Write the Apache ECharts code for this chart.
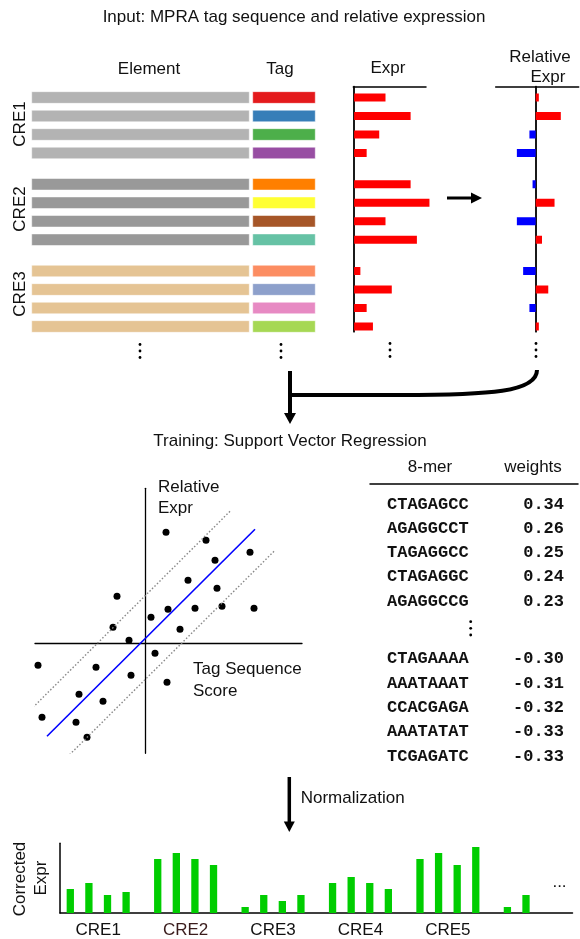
<!DOCTYPE html>
<html><head><meta charset="utf-8">
<script src="https://cdn.jsdelivr.net/npm/echarts@6/dist/echarts.min.js"></script>
<style>html,body{margin:0;padding:0;background:#fff}#c{width:580px;height:939px}</style>
</head><body><div id="c"></div>
<script>
// ---------------- data ----------------
const creNames = ['CRE1', 'CRE2', 'CRE3'];
const elementColors = ['#b3b3b3', '#999999', '#e5c494'];
const tagColors = ['#e41a1c', '#377eb8', '#4daf4a', '#984ea3', '#ff7f00', '#ffff33', '#a65628', '#66c2a5', '#fc8d62', '#8da0cb', '#e78ac3', '#a6d854'];
const exprValues = [5, 9, 4, 2, 9, 12, 5, 10, 1, 6, 2, 3];
const relExprValues = [0.5, 4, -1, -3, -0.5, 3, -3, 1, -2, 2, -1, 0.5];

const svrPoints = [[21, 111], [61, 103], [105, 91], [70, 83], [43, 63], [72, 55], [-28, 47], [23, 34], [50, 35], [77, 37], [109, 35], [6, 26], [-32, 16], [35, 14], [-16, 3], [10, -10], [-107, -22], [-49, -24], [-14, -32], [22, -39], [-66, -51], [-42, -58], [-103, -74], [-69, -79], [-58, -94]];
const svrLine = [[-98, -93], [110, 114]];
const marginUpper = [[-122, -74], [85, 132]];
const marginLower = [[-78, -114], [130, 93]];

const topKmers = ['CTAGAGCC', 'AGAGGCCT', 'TAGAGGCC', 'CTAGAGGC', 'AGAGGCCG'];
const topWeights = [0.34, 0.26, 0.25, 0.24, 0.23];
const bottomKmers = ['CTAGAAAA', 'AAATAAAT', 'CCACGAGA', 'AAATATAT', 'TCGAGATC'];
const bottomWeights = [-0.30, -0.31, -0.32, -0.33, -0.33];

const correctedGroups = ['CRE1', 'CRE2', 'CRE3', 'CRE4', 'CRE5', 'CRE6'];
const correctedValues = [[4, 5, 3, 3.5], [9, 10, 9, 8], [1, 3, 2, 3], [5, 6, 5, 4], [9, 10, 8, 11], [1, 3]];

// ---------------- layout helpers ----------------
const SANS = '"Liberation Sans", Arial, Helvetica, sans-serif';
const MONO = '"Liberation Mono", "Courier New", monospace';
const TOP_GROUP_STEP = 4.69;
const rowPos = k => Math.floor(k / 4) * TOP_GROUP_STEP + (k % 4);
const TABLE_GAP = 6.37;
const BOTTOM_GROUP_STEP = 4.7;

const topY = { top: 86.77, height: 244.9 };
const topYAxis = (gi, extra) => Object.assign({
  gridIndex: gi, type: 'value', min: -0.58, max: 12.66, inverse: true,
  axisLine: { show: false }, axisTick: { show: false }, axisLabel: { show: false }, splitLine: { show: false }
}, extra || {});
const hiddenX = (gi, min, max, extra) => Object.assign({
  gridIndex: gi, type: 'value', min, max,
  axisLine: { show: false }, axisTick: { show: false }, axisLabel: { show: false }, splitLine: { show: false }
}, extra || {});
const blackLine = w => ({ color: '#000', width: w });

function txt(x, y, text, o) {
  o = o || {};
  const align = o.align || 'center';
  return {
    type: 'text', x, y, rotation: o.rotation || 0, silent: true,
    style: {
      text, font: o.font || ('17px ' + SANS), fill: o.color || '#111',
      align, textAlign: align, verticalAlign: 'middle', textVerticalAlign: 'middle'
    }
  };
}
function dots(x, ys) {
  return ys.map(y => ({ type: 'circle', shape: { cx: x, cy: y, r: 1.4 }, style: { fill: '#000' }, silent: true }));
}

// ---------------- series data ----------------
const rowsIdx = exprValues.map((v, k) => k);
const tableRows = [];
topKmers.forEach((k, i) => tableRows.push({ kmer: k, w: topWeights[i], pos: i }));
bottomKmers.forEach((k, i) => tableRows.push({ kmer: k, w: bottomWeights[i], pos: TABLE_GAP + i }));
const correctedData = [];
correctedValues.forEach((vals, g) => vals.forEach((v, i) => correctedData.push([g * BOTTOM_GROUP_STEP + i, v])));
const labelCenters = correctedGroups.slice(0, 5).map((n, g) => g * BOTTOM_GROUP_STEP + 1.5);

const EXPR_SCALE = 6.28;

const option = {
  animation: false,
  grid: [
    Object.assign({ left: 31.7, width: 217.6 }, topY),
    Object.assign({ left: 252.7, width: 62.6 }, topY),
    Object.assign({ left: 353.3, width: 72.7 }, topY),
    Object.assign({ left: 495.7, width: 83 }, topY),
    { left: 35, top: 488.3, width: 267, height: 265 },
    { left: 370, top: 483.3, width: 208, height: 286.7 },
    { left: 60, top: 843.3, width: 512.5, height: 72 }
  ],
  xAxis: [
    hiddenX(0, 0, 1),
    hiddenX(1, 0, 1),
    hiddenX(2, 0, 72.7 / EXPR_SCALE, { position: 'top', axisLine: { show: true, onZero: false, lineStyle: blackLine(1.5) } }),
    hiddenX(3, -40 / EXPR_SCALE, 43 / EXPR_SCALE, { position: 'top', axisLine: { show: true, onZero: false, lineStyle: blackLine(1.5) } }),
    hiddenX(4, -110, 157, { axisLine: { show: true, onZero: true, lineStyle: blackLine(1.3) } }),
    hiddenX(5, 0, 208, { position: 'top', axisLine: { show: true, onZero: false, lineStyle: blackLine(1.5) } }),
    hiddenX(6, -0.554, 27.0, {
      axisLine: { show: true, onZero: false, lineStyle: blackLine(1.5) },
      axisLabel: {
        show: true, customValues: labelCenters, margin: 9, fontSize: 17, fontFamily: SANS,
        color: (v, i) => (i === 1 ? '#3a1c1c' : '#111'),
        formatter: v => correctedGroups[Math.round((v - 1.5) / BOTTOM_GROUP_STEP)]
      }
    })
  ],
  yAxis: [
    topYAxis(0),
    topYAxis(1),
    topYAxis(2, { axisLine: { show: true, onZero: false, lineStyle: blackLine(1.8) } }),
    topYAxis(3, { axisLine: { show: true, onZero: true, lineStyle: blackLine(1.8) } }),
    { gridIndex: 4, type: 'value', min: -110, max: 155, axisLine: { show: true, onZero: true, lineStyle: blackLine(1.3) }, axisTick: { show: false }, axisLabel: { show: false }, splitLine: { show: false } },
    { gridIndex: 5, type: 'value', min: -0.864, max: 10.934, inverse: true, show: false },
    { gridIndex: 6, type: 'value', min: 0, max: 72 / 6.2, axisLine: { show: true, onZero: false, lineStyle: blackLine(1.5) }, axisTick: { show: false }, axisLabel: { show: false }, splitLine: { show: false } }
  ],
  series: [
    { // element bars
      type: 'custom', xAxisIndex: 0, yAxisIndex: 0, silent: true,
      data: rowsIdx.map(k => [0, rowPos(k)]),
      renderItem: (p, api) => {
        const a = api.coord([0, api.value(1)]), b = api.coord([1, api.value(1)]);
        return { type: 'rect', shape: { x: a[0], y: a[1] - 5.85, width: b[0] - a[0], height: 11.7 },
          style: { fill: elementColors[Math.floor(p.dataIndex / 4)], stroke: 'rgba(255,255,255,0.55)', lineWidth: 1 } };
      }
    },
    { // tag bars
      type: 'custom', xAxisIndex: 1, yAxisIndex: 1, silent: true,
      data: rowsIdx.map(k => [0, rowPos(k)]),
      renderItem: (p, api) => {
        const a = api.coord([0, api.value(1)]), b = api.coord([1, api.value(1)]);
        return { type: 'rect', shape: { x: a[0], y: a[1] - 5.85, width: b[0] - a[0], height: 11.7 },
          style: { fill: tagColors[p.dataIndex], stroke: 'rgba(255,255,255,0.55)', lineWidth: 1 } };
      }
    },
    { // expression
      type: 'custom', xAxisIndex: 2, yAxisIndex: 2, silent: true,
      data: exprValues.map((v, k) => [v, rowPos(k)]),
      renderItem: (p, api) => {
        const a = api.coord([0, api.value(1)]), b = api.coord([api.value(0), api.value(1)]);
        return { type: 'rect', shape: { x: a[0] + 0.8, y: a[1] - 4, width: b[0] - a[0], height: 8 }, style: { fill: '#ff0000' } };
      }
    },
    { // relative expression
      type: 'custom', xAxisIndex: 3, yAxisIndex: 3, silent: true,
      data: relExprValues.map((v, k) => [v, rowPos(k)]),
      renderItem: (p, api) => {
        const v = api.value(0);
        const a = api.coord([0, api.value(1)]), b = api.coord([v, api.value(1)]);
        const x0 = Math.min(a[0], b[0]);
        return { type: 'rect', shape: { x: x0, y: a[1] - 4, width: Math.abs(b[0] - a[0]), height: 8 }, style: { fill: v >= 0 ? '#ff0000' : '#0000ff' } };
      }
    },
    { type: 'line', xAxisIndex: 4, yAxisIndex: 4, data: marginUpper, symbol: 'none', silent: true, lineStyle: { color: '#888', width: 1.4, type: [1.5, 2] } },
    { type: 'line', xAxisIndex: 4, yAxisIndex: 4, data: marginLower, symbol: 'none', silent: true, lineStyle: { color: '#888', width: 1.4, type: [1.5, 2] } },
    { type: 'line', xAxisIndex: 4, yAxisIndex: 4, data: svrLine, symbol: 'none', silent: true, lineStyle: { color: '#0000ff', width: 1.6 } },
    { type: 'scatter', xAxisIndex: 4, yAxisIndex: 4, data: svrPoints, symbolSize: 7, silent: true, itemStyle: { color: '#000', opacity: 1 } },
    { // table of k-mer weights
      type: 'custom', xAxisIndex: 5, yAxisIndex: 5, silent: true,
      data: tableRows.map(r => [0, r.pos]),
      renderItem: (p, api) => {
        const r = tableRows[p.dataIndex];
        const c = api.coord([0, api.value(1)]);
        const st = (text, align) => ({ text, font: 'bold 17px ' + MONO, fill: '#111', align, textAlign: align, verticalAlign: 'middle', textVerticalAlign: 'middle' });
        return { type: 'group', children: [
          { type: 'text', x: c[0] + 17, y: c[1], style: st(r.kmer, 'left') },
          { type: 'text', x: c[0] + 194, y: c[1], style: st(r.w.toFixed(2), 'right') }
        ] };
      }
    },
    { // corrected expression
      type: 'custom', xAxisIndex: 6, yAxisIndex: 6, silent: true,
      data: correctedData,
      renderItem: (p, api) => {
        const t = api.coord([api.value(0), api.value(1)]), b = api.coord([api.value(0), 0]);
        return { type: 'rect', shape: { x: t[0] - 3.65, y: t[1], width: 7.3, height: b[1] - t[1] }, style: { fill: '#00cd00' } };
      }
    }
  ],
  graphic: [].concat(
    [
      txt(294, 17, 'Input: MPRA tag sequence and relative expression'),
      txt(149, 69, 'Element'),
      txt(280, 69, 'Tag'),
      txt(388, 68, 'Expr'),
      txt(540, 57, 'Relative'),
      txt(548, 77, 'Expr'),
      txt(20, 124, creNames[0], { rotation: Math.PI / 2 }),
      txt(20, 209, creNames[1], { rotation: Math.PI / 2 }),
      txt(20, 294, creNames[2], { rotation: Math.PI / 2 }),
      txt(290, 441, 'Training: Support Vector Regression'),
      txt(158, 487, 'Relative', { align: 'left' }),
      txt(158, 508, 'Expr', { align: 'left' }),
      txt(193, 669, 'Tag Sequence', { align: 'left' }),
      txt(193, 691, 'Score', { align: 'left' }),
      txt(430, 467, '8-mer'),
      txt(533, 467, 'weights'),
      txt(300.7, 798, 'Normalization', { align: 'left' }),
      txt(20.4, 879, 'Corrected', { rotation: Math.PI / 2 }),
      txt(40.9, 878, 'Expr', { rotation: Math.PI / 2 }),
      txt(559.5, 882, '...'),
      // arrow expr -> relative
      { type: 'line', silent: true, shape: { x1: 447, y1: 198, x2: 473, y2: 198 }, style: { stroke: '#000', lineWidth: 3 } },
      { type: 'polygon', silent: true, shape: { points: [[482, 198], [471, 192.5], [471, 203.5]] }, style: { fill: '#000' } },
      // connector to training
      { type: 'line', silent: true, shape: { x1: 288, y1: 395, x2: 401, y2: 395 }, style: { stroke: '#000', lineWidth: 4 } },
      { type: 'bezierCurve', silent: true, shape: { x1: 400, y1: 395, cpx1: 490, cpy1: 395, cpx2: 537, cpy2: 392, x2: 537, y2: 370 }, style: { stroke: '#000', lineWidth: 4, fill: null } },
      { type: 'line', silent: true, shape: { x1: 290, y1: 371, x2: 290, y2: 415 }, style: { stroke: '#000', lineWidth: 4 } },
      { type: 'polygon', silent: true, shape: { points: [[290, 424], [284, 413], [296, 413]] }, style: { fill: '#000' } },
      // normalization arrow
      { type: 'line', silent: true, shape: { x1: 289.3, y1: 777, x2: 289.3, y2: 823 }, style: { stroke: '#000', lineWidth: 3.5 } },
      { type: 'polygon', silent: true, shape: { points: [[289.3, 832], [283.8, 821.5], [294.8, 821.5]] }, style: { fill: '#000' } }
    ],
    dots(140, [344.5, 351, 357.5]),
    dots(281, [344.5, 351, 357.5]),
    dots(390, [343.5, 350, 356.5]),
    dots(536, [343.5, 350, 356.5]),
    dots(470.7, [621.7, 628.3, 635])
  )
};

const chart = echarts.init(document.getElementById('c'), null, { renderer: 'canvas' });
chart.setOption(option);
</script>
</body></html>
